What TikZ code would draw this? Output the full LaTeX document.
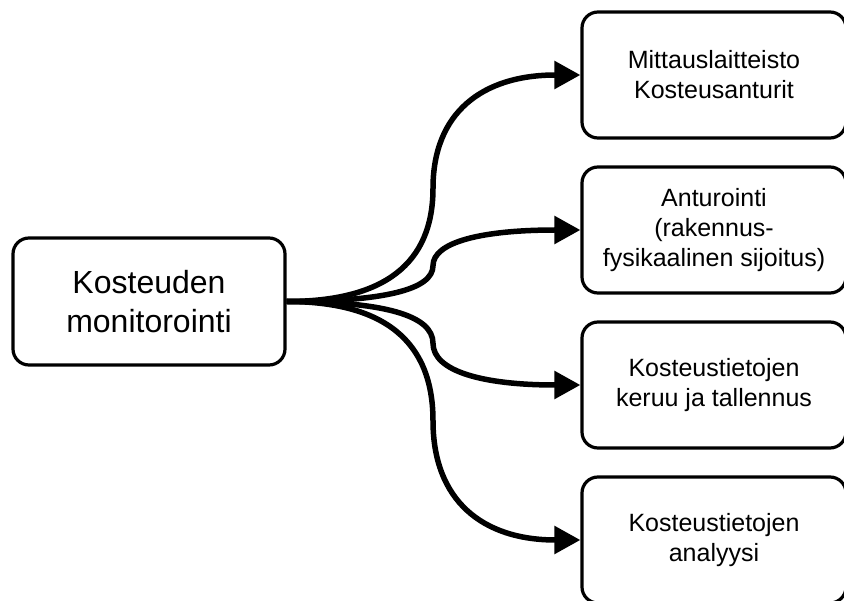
\documentclass[tikz,border=0pt]{standalone}
\usepackage{fontspec}
\setmainfont{Liberation Sans}
\usetikzlibrary{arrows.meta,calc}
\begin{document}
\begin{tikzpicture}[x=1pt,y=-1pt,
  box/.style={draw=black, line width=3.2pt, rounded corners=16pt, inner sep=0pt, align=center},
  leftbox/.style={box, minimum width=272pt, minimum height=127pt, font=\fontsize{32}{38.4}\selectfont},
  rightbox/.style={box, minimum width=264pt, minimum height=126pt, font=\fontsize{25}{30}\selectfont},
  conn/.style={line width=5.5pt, -{Triangle[length=26pt,width=27pt]}}]
\useasboundingbox (0,0) rectangle (844,601);
\node[leftbox] (L) at (149,301.5) {Kosteuden\\monitorointi};
\node[rightbox] (R1) at (714,75) {Mittauslaitteisto\\Kosteusanturit};
\node[rightbox] (R2) at (714,230) {Anturointi\\(rakennus-\\fysikaalinen sijoitus)};
\node[rightbox] (R3) at (714,385) {Kosteustietojen\\keruu ja tallennus};
\node[rightbox] (R4) at (714,540) {Kosteustietojen\\analyysi};
\coordinate (jx) at (433,0);
\coordinate (ja) at (jx |- L.east);
\foreach \k in {1,...,4}{
  \coordinate (jb\k) at (jx |- R\k.west);
  \coordinate (m\k) at (jx |- {$(L.east)!0.5!(R\k.west)$});
  \draw[conn] (L.east) .. controls ($(L.east)!2/3!(ja)$) and ($(m\k)!2/3!(ja)$) .. (m\k)
    .. controls ($(m\k)!2/3!(jb\k)$) and ($(R\k.west)!2/3!(jb\k)$) .. (R\k.west);
}
\end{tikzpicture}
\end{document}
